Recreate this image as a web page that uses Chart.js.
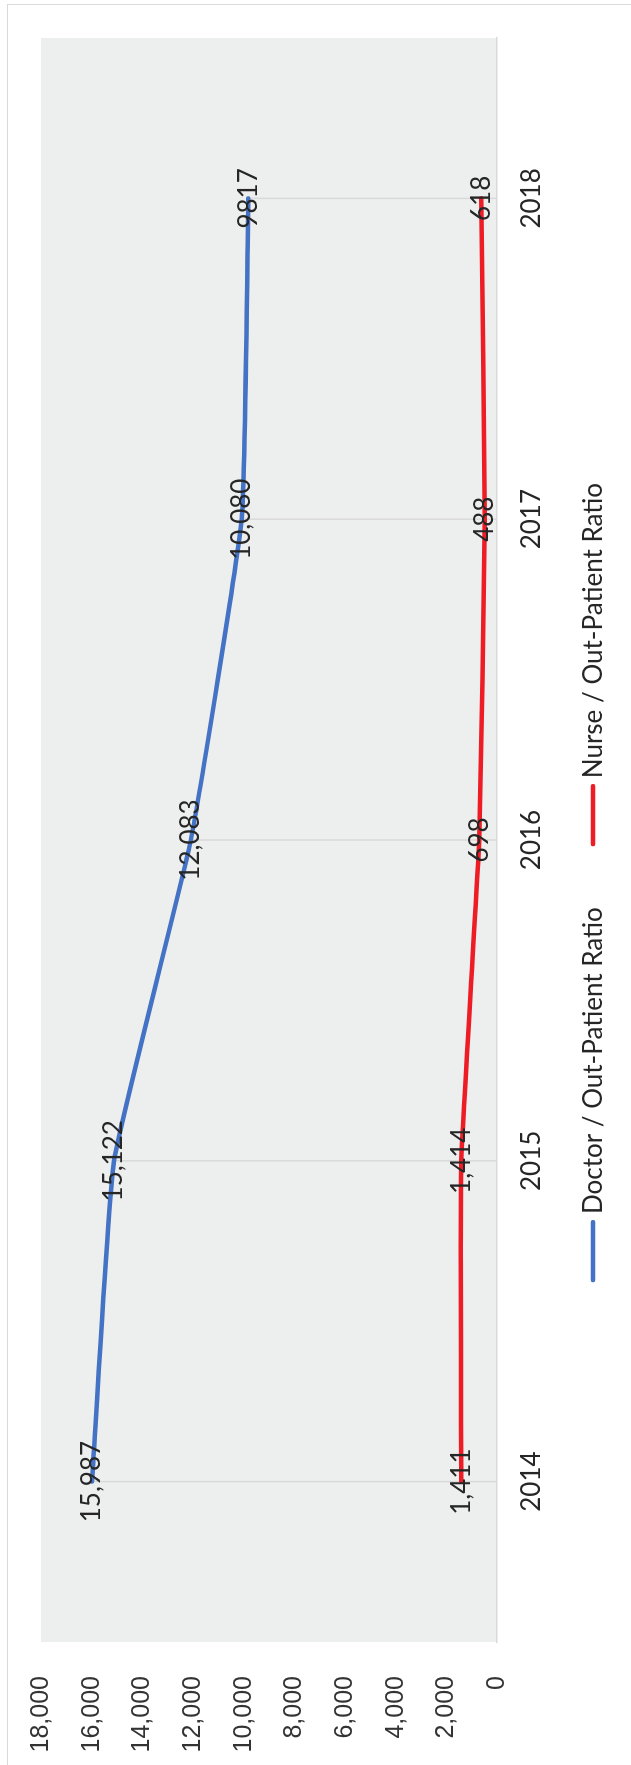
<!DOCTYPE html>
<html>
<head>
<meta charset="utf-8">
<title>Doctor and Nurse / Out-Patient Ratio</title>
<script src="https://cdn.jsdelivr.net/npm/chart.js@4.4.0/dist/chart.umd.min.js"></script>
<style>
  html, body { margin: 0; padding: 0; background: #fff; overflow: hidden; }
  body { width: 631px; height: 1765px; position: relative; }
  .frame {
    position: absolute; left: 7px; top: 4px; width: 700px; height: 1800px;
    border-left: 1.5px solid #d9d9d9; border-top: 1.5px solid #d9d9d9;
  }
  /* chart is laid out landscape and turned a quarter counter-clockwise */
  #ratioChart {
    position: absolute; left: 0; top: 0;
    transform-origin: 0 0;
    transform: translate(0, 1765px) rotate(-90deg);
  }
</style>
</head>
<body>
<div class="frame"></div>
<canvas id="ratioChart" width="1765" height="631" style="width:1765px;height:631px"></canvas>
<script>
const years = ['2014', '2015', '2016', '2017', '2018'];
const doctorRatio = [15987, 15122, 12083, 10080, 9817];
const nurseRatio = [1411, 1414, 698, 488, 618];
// which value labels are printed with a thousands separator
const doctorGrouped = [true, true, true, true, false];
const nurseGrouped = [true, true, true, true, true];
const axisMax = 18000;
const axisStep = 2000;

const labelFont = 'Lato, "Open Sans", sans-serif';
const tickFont = '"Liberation Sans", Arial, sans-serif';

// grey plot background
const plotBackground = {
  id: 'plotBackground',
  beforeDraw(chart) {
    const { ctx, chartArea: a } = chart;
    ctx.save();
    ctx.fillStyle = '#edeeee';
    ctx.fillRect(a.left, a.top, a.right - a.left, a.bottom - a.top);
    ctx.restore();
  }
};

// drop lines from the highest point of each year down to the axis
const dropLines = {
  id: 'dropLines',
  beforeDatasetsDraw(chart) {
    const { ctx, chartArea } = chart;
    const metas = chart.getSortedVisibleDatasetMetas();
    ctx.save();
    ctx.strokeStyle = '#d9d9d9';
    ctx.lineWidth = 1.5;
    years.forEach((_, i) => {
      const top = Math.min(...metas.map(m => m.data[i].y));
      const x = metas[0].data[i].x;
      ctx.beginPath();
      ctx.moveTo(x, top);
      ctx.lineTo(x, chartArea.bottom);
      ctx.stroke();
    });
    ctx.restore();
  }
};

// value labels centred on each point
const valueLabels = {
  id: 'valueLabels',
  afterDatasetsDraw(chart) {
    const { ctx } = chart;
    ctx.save();
    ctx.font = '26px ' + labelFont;
    ctx.fillStyle = '#262626';
    ctx.textAlign = 'center';
    ctx.textBaseline = 'middle';
    chart.getSortedVisibleDatasetMetas().forEach(meta => {
      const ds = chart.data.datasets[meta.index];
      meta.data.forEach((pt, i) => {
        const v = ds.data[i];
        const txt = ds.grouped[i] ? v.toLocaleString('en-US') : String(v);
        ctx.fillText(txt, pt.x, pt.y);
      });
    });
    ctx.restore();
  }
};

// line-sample legend under the category labels
const lineLegend = {
  id: 'lineLegend',
  afterDraw(chart) {
    const { ctx, width } = chart;
    const sample = 62, gap = 6, between = 61, y = 593;
    ctx.save();
    ctx.font = '26px ' + labelFont;
    ctx.textBaseline = 'middle';
    ctx.textAlign = 'left';
    const items = chart.data.datasets.map(ds => ({ ds, w: ctx.measureText(ds.label).width }));
    const total = items.reduce((s, it) => s + sample + gap + it.w, 0) + between * (items.length - 1);
    let x = (width - total) / 2;
    items.forEach(({ ds, w }) => {
      ctx.strokeStyle = ds.borderColor;
      ctx.lineWidth = ds.borderWidth;
      ctx.lineCap = 'round';
      ctx.beginPath();
      ctx.moveTo(x + 2, y);
      ctx.lineTo(x + sample - 2, y);
      ctx.stroke();
      ctx.fillStyle = '#262626';
      ctx.fillText(ds.label, x + sample + gap, y + 1);
      x += sample + gap + w + between;
    });
    ctx.restore();
  }
};

const ctx = document.getElementById('ratioChart').getContext('2d');

const ratioChart = new Chart(ctx, {
  type: 'line',
  data: {
    labels: years,
    datasets: [{
      label: 'Doctor / Out-Patient Ratio',
      data: doctorRatio,
      grouped: doctorGrouped,
      borderColor: '#4472c4',
      borderWidth: 4.5
    }, {
      label: 'Nurse / Out-Patient Ratio',
      data: nurseRatio,
      grouped: nurseGrouped,
      borderColor: '#ee1c25',
      borderWidth: 4.5
    }]
  },
  options: {
    responsive: false,
    animation: false,
    devicePixelRatio: 1,
    layout: { padding: { top: 41, right: 38, bottom: 0, left: 0 } },
    elements: {
      point: { radius: 0, hoverRadius: 0 },
      line: { tension: 0.12, borderCapStyle: 'round', borderJoinStyle: 'round', fill: false }
    },
    plugins: {
      legend: { display: false },
      tooltip: { enabled: false }
    },
    scales: {
      x: {
        offset: true,
        grid: { display: false },
        border: { display: true, color: '#d9d9d9', width: 1.5 },
        ticks: {
          padding: 11,
          maxRotation: 0,
          color: '#262626',
          font: { family: labelFont, size: 26 }
        },
        afterFit(scale) { scale.height = 134; }
      },
      y: {
        min: 0,
        max: axisMax,
        grid: { display: false },
        border: { display: false },
        ticks: {
          stepSize: axisStep,
          autoSkip: false,
          padding: 26,
          color: '#333333',
          font: { family: tickFont, size: 25 },
          callback: v => v.toLocaleString('en-US')
        },
        afterFit(scale) { scale.width = 123; }
      }
    }
  },
  plugins: [plotBackground, dropLines, valueLabels, lineLegend]
});
</script>
</body>
</html>
